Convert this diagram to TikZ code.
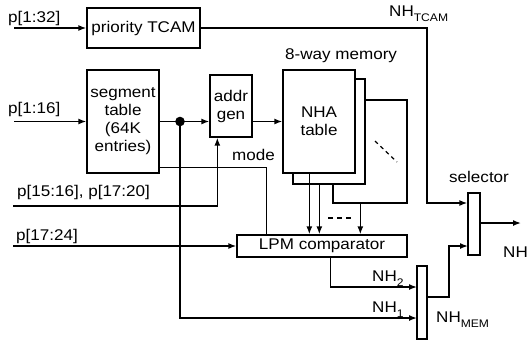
\documentclass[tikz,border=0pt]{standalone}
\usepackage{fontspec}
\setmainfont{Liberation Sans}[FakeStretch=1.1]
\usetikzlibrary{arrows.meta,calc}
\newcommand\lowsub[1]{\raisebox{-5pt}{\fontsize{11}{11}\selectfont #1}}
\begin{document}
\begin{tikzpicture}[x=1pt,y=-1pt,
  font=\fontsize{15.5}{18}\selectfont,
  box/.style={draw,line width=1.3pt,fill=white,inner sep=0pt,align=center},
  ln/.style={line width=1.5pt},
  arr/.style={line width=1.5pt,-{Latex[length=8pt,width=6pt]}},
  lbl/.style={anchor=base west,inner sep=0pt}]
\useasboundingbox (0,0) rectangle (527,341);
% boxes
\node[box,minimum width=113pt,minimum height=40pt] (tcam) at (143.5,28) {priority TCAM};
\node[box,minimum width=72pt,minimum height=103pt] (seg) at (123,121.5) {segment\\table\\(64K\\entries)};
\node[box,minimum width=42pt,minimum height=62pt] (addr) at (231,106) {addr\\gen};
\node[box,minimum width=74pt,minimum height=103pt] (nha3) at (370,151.5) {};
\node[box,minimum width=72pt,minimum height=105pt] (nha2) at (329,131.5) {};
\node[box,minimum width=72pt,minimum height=103pt] (nha1) at (319,121.5) {NHA\\table};
\node[box,minimum width=170pt,minimum height=22pt] (lpm) at (322,246) {LPM comparator};
\node[box,minimum width=10pt,minimum height=73pt] (mem) at (422,302.5) {};
\node[box,minimum width=12pt,minimum height=62pt] (sel) at (474,224) {};
\draw[line width=1.2pt,dash pattern=on 4pt off 3.5pt] (375,141) -- (397,162);
% labels
\node[lbl] (l32) at (8,22) {p[1:32]};
\node[lbl] (l16) at (8,113) {p[1:16]};
\node[lbl] (l1516) at (17,196) {p[15:16], p[17:20]};
\node[lbl] (l1724) at (16,240) {p[17:24]};
\node[lbl] (ltcam) at (389,16) {NH\lowsub{TCAM}};
\node[lbl] (lmemory) at (285,59) {8-way memory};
\node[lbl] (lsel) at (449,182) {selector};
\node[lbl] (lnh) at (503,257) {NH};
\node[lbl] (lnh2) at (372,281) {NH\lowsub{2}};
\node[lbl] (lnh1) at (372,312) {NH\lowsub{1}};
\node[lbl] (lnhmem) at (436,322) {NH\lowsub{MEM}};
\node[lbl] (lmode) at (232,160) {mode};
% coordinates
\coordinate (in32) at (14,28);
\coordinate (tbend) at (427,203);
\coordinate (in16) at (14,121.5);
\coordinate (dot) at (180,121.5);
\coordinate (nh1) at (417,318);
\coordinate (nh2) at (417,287);
\coordinate (in1516) at (13,206);
\coordinate (in1724) at (13,246);
\coordinate (mo) at (427,297);
\coordinate (selin2) at (468,246);
\coordinate (nhout) at (521,223);
% connectors
\draw[arr] (in32) -- (tcam.west);
\draw[arr] (tcam.east) -| (tbend) -- (tbend -| sel.west);
\draw[arr] (in16) -- (seg.west);
\draw[ln] (seg.east) -- (dot);
\draw[arr] (dot) -- (dot -| addr.west);
\draw[arr] (addr.east |- nha1.west) -- (nha1.west);
\draw[arr] (dot) |- (nh1);
\fill (dot) circle (4.8pt);
\draw[ln] ([yshift=6pt]seg.south east) -| ($(lpm.north west)+(30,0)$);
\draw[arr] (in1516) -| ($(addr.south west)+(8,0)$);
\draw[arr] (in1724) -- (lpm.west);
\draw[arr] ($(lpm.south west)+(94,0)$) |- (nh2);
\draw[arr] (mo) -- ++(22,0) |- (selin2);
\draw[arr] (sel.east |- nhout) -- (nhout);
\draw[arr] ($(nha1.south west)+(27,0)$) -- ($(lpm.north west)+(73,0)$);
\draw[arr] ($(nha2.south west)+(27,0)$) -- ($(lpm.north west)+(83,0)$);
\draw[arr] ($(nha3.south west)+(28,0)$) -- ($(lpm.north west)+(124,0)$);
\draw[line width=1.2pt,dash pattern=on 5pt off 4pt] (328,218) -- (351,218);
\end{tikzpicture}
\end{document}
